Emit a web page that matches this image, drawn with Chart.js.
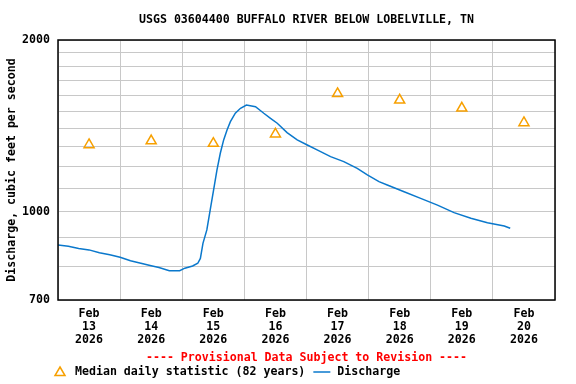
<!DOCTYPE html>
<html>
<head>
<meta charset="utf-8">
<script src="https://cdn.jsdelivr.net/npm/chart.js@4/dist/chart.umd.min.js"></script>
<style>
  body { margin: 0; background: #fff; }
  #wrap { width: 576px; height: 384px; }
</style>
</head>
<body>
<div id="wrap"><canvas id="myChart" width="576" height="384"></canvas></div>
<script>
// hours since Feb 13 2026 00:00
const flowHours = [0, 4, 8, 12, 16, 20, 24, 28, 32, 36, 39, 43, 47, 49, 52, 54, 55, 56, 57.5,
    58.8, 60.1, 61.4, 62.7, 64, 65.3, 66.6, 68.5, 70.5, 72.8, 76.3, 79.5, 82.1, 84.7, 88.5,
    92.4, 96.3, 100.1, 105.3, 110.4, 115.6, 119.5, 124, 127.2, 133.7, 140.1, 146.6, 153,
    159.5, 165.9, 172.4, 174.7]
const flowValues = [874, 870, 862, 857, 847, 840, 832, 820, 812, 804, 798, 788, 788, 796, 803, 812, 828, 880, 929,
    1007, 1091, 1183, 1266, 1336, 1391, 1438, 1488, 1518, 1538, 1528, 1488, 1458, 1429, 1376,
    1336, 1309, 1283, 1249, 1224, 1191, 1160, 1129, 1114, 1084, 1055, 1027, 996,
    974, 956, 944, 935]

const medianHours = [12, 36, 60, 84, 108, 132, 156, 180]
const medianValues = [1310, 1331, 1317, 1368, 1610, 1569, 1519, 1432]

const dayLabels = ['13', '14', '15', '16', '17', '18', '19', '20']
const yGridValues = [700, 800, 900, 1000, 1100, 1200, 1300, 1400, 1500, 1600, 1700, 1800, 1900, 2000]
const yLabelValues = [700, 1000, 2000]

const chartTitle = 'USGS 03604400 BUFFALO RIVER BELOW LOBELVILLE, TN'
const provisionalText = '---- Provisional Data Subject to Revision ----'
const medianLabel = 'Median daily statistic (82 years)'
const flowLabel = 'Discharge'

const FONT = 'bold 11.6px "DejaVu Sans Mono"'
const flowColor = '#0a78cc'
const medianColor = '#f7a000'

Chart.defaults.font.family = '"DejaVu Sans Mono"'
Chart.defaults.font.size = 11.6
Chart.defaults.font.weight = 'bold'
Chart.defaults.color = '#000'

// frame, title and the bottom texts/legend
const decorPlugin = {
    id: 'decor',
    afterDraw(chart) {
        const ctx = chart.ctx
        const a = chart.chartArea
        ctx.save()
        ctx.strokeStyle = '#000'
        ctx.lineWidth = 1.5
        ctx.strokeRect(a.left, a.top, a.right - a.left, a.bottom - a.top)

        const cx = (a.left + a.right) / 2
        ctx.font = FONT
        ctx.textBaseline = 'middle'
        ctx.textAlign = 'center'
        ctx.fillStyle = '#000'
        ctx.fillText(chartTitle, cx, 20)

        ctx.fillStyle = '#ff0000'
        ctx.fillText(provisionalText, cx, 358)

        // legend
        const ly = 372
        ctx.strokeStyle = medianColor
        ctx.lineWidth = 1.5
        ctx.beginPath()
        ctx.moveTo(60, ly - 5)
        ctx.lineTo(65, ly + 3.5)
        ctx.lineTo(55, ly + 3.5)
        ctx.closePath()
        ctx.stroke()

        ctx.textAlign = 'left'
        ctx.fillStyle = '#000'
        ctx.fillText(medianLabel, 75, ly)
        const w = ctx.measureText(medianLabel).width
        const lx = 75 + w + 8
        ctx.strokeStyle = flowColor
        ctx.beginPath()
        ctx.moveTo(lx, ly)
        ctx.lineTo(lx + 17, ly)
        ctx.stroke()
        ctx.fillText(flowLabel, lx + 24, ly)
        ctx.restore()
    }
}

const config = {
    type: 'line',
    data: {
        datasets: [{
            label: medianLabel,
            data: medianHours.map((h, i) => ({ x: h, y: medianValues[i] })),
            showLine: false,
            pointStyle: 'triangle',
            pointRadius: 5.8,
            pointBorderWidth: 1.5,
            borderColor: medianColor,
            backgroundColor: 'rgba(0,0,0,0)',
        }, {
            label: flowLabel,
            data: flowHours.map((h, i) => ({ x: h, y: flowValues[i] })),
            borderColor: flowColor,
            borderWidth: 1.5,
            pointRadius: 0,
            tension: 0,
        }]
    },
    options: {
        responsive: false,
        animation: false,
        devicePixelRatio: 1,
        layout: { padding: { top: 40, right: 21, bottom: 0, left: 0 } },
        plugins: {
            legend: { display: false },
            title: { display: false },
            tooltip: { enabled: false },
        },
        scales: {
            x: {
                type: 'linear',
                min: 0,
                max: 192,
                afterFit: (scale) => { scale.height = 84 },
                border: { display: false },
                grid: {
                    drawTicks: false,
                    color: (c) => (c.tick && c.tick.value % 24 === 0) ? '#c8c8c8' : 'rgba(0,0,0,0)',
                },
                ticks: {
                    stepSize: 12,
                    autoSkip: false,
                    maxRotation: 0,
                    padding: 7,
                    font: { lineHeight: 13 / 11.6 },
                    callback: (v) => {
                        if (v % 24 !== 12) return ''
                        return ['Feb', dayLabels[(v - 12) / 24], '2026']
                    },
                },
            },
            y: {
                type: 'logarithmic',
                min: 700,
                max: 2000,
                afterFit: (scale) => { scale.width = 58 },
                afterBuildTicks: (scale) => {
                    scale.ticks = yGridValues.map(v => ({ value: v }))
                },
                border: { display: false },
                grid: { drawTicks: false, color: '#c8c8c8' },
                ticks: {
                    autoSkip: false,
                    padding: 8,
                    callback: (v) => yLabelValues.includes(v) ? String(v) : '',
                },
                title: {
                    display: true,
                    text: 'Discharge, cubic feet per second',
                    padding: { top: 5, bottom: 0 },
                },
            },
        },
    },
    plugins: [decorPlugin],
}

const myChart = new Chart(document.getElementById('myChart'), config)
</script>
</body>
</html>
